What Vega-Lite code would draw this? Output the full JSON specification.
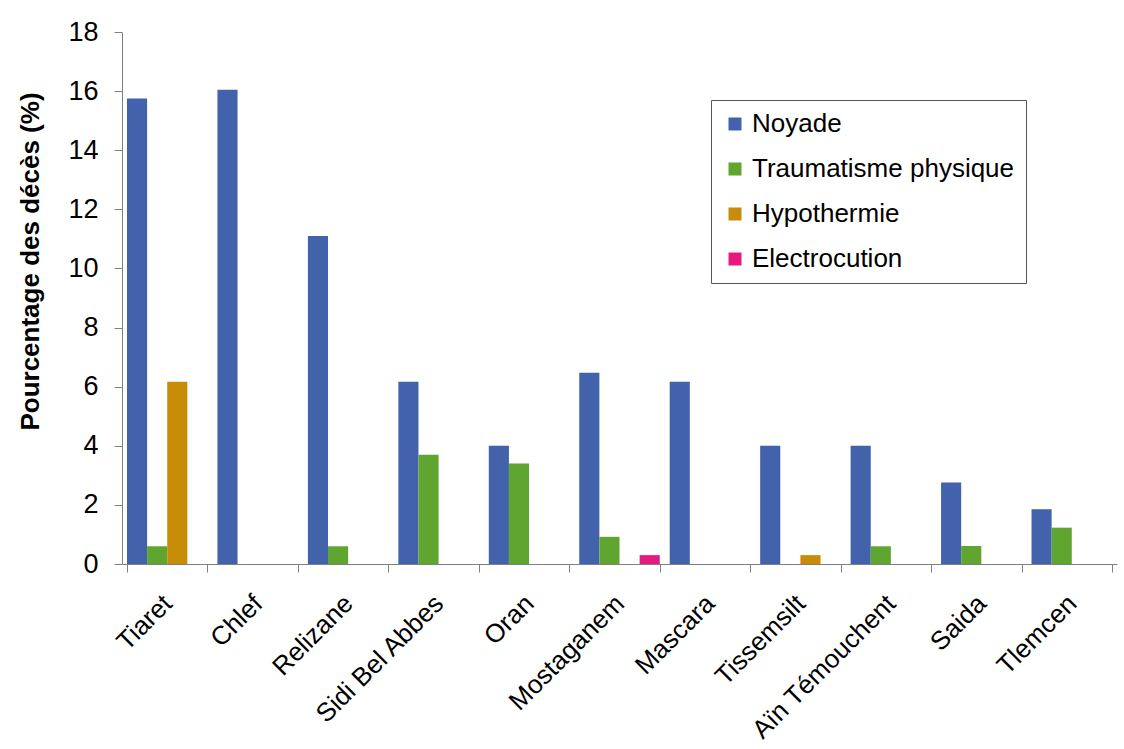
{
  "$schema": "https://vega.github.io/schema/vega-lite/v6.json",
  "autosize": {"type": "none"},
  "padding": {"left": 122, "top": 32, "right": 7, "bottom": 185},
  "width": 995,
  "height": 532,
  "background": "white",
  "config": {
    "font": "Liberation Sans",
    "view": {"stroke": null},
    "axis": {"labelColor": "black", "titleColor": "black", "domainColor": "#808080", "tickColor": "#808080", "grid": false}
  },
  "data": {
    "values": [
      {"wilaya": "Tiaret", "cause": "Noyade", "pct": 15.75},
      {"wilaya": "Tiaret", "cause": "Traumatisme physique", "pct": 0.6},
      {"wilaya": "Tiaret", "cause": "Hypothermie", "pct": 6.17},
      {"wilaya": "Chlef", "cause": "Noyade", "pct": 16.05},
      {"wilaya": "Relizane", "cause": "Noyade", "pct": 11.1},
      {"wilaya": "Relizane", "cause": "Traumatisme physique", "pct": 0.6},
      {"wilaya": "Sidi Bel Abbes", "cause": "Noyade", "pct": 6.17},
      {"wilaya": "Sidi Bel Abbes", "cause": "Traumatisme physique", "pct": 3.7},
      {"wilaya": "Oran", "cause": "Noyade", "pct": 4.0},
      {"wilaya": "Oran", "cause": "Traumatisme physique", "pct": 3.4},
      {"wilaya": "Mostaganem", "cause": "Noyade", "pct": 6.47},
      {"wilaya": "Mostaganem", "cause": "Traumatisme physique", "pct": 0.92},
      {"wilaya": "Mostaganem", "cause": "Electrocution", "pct": 0.3},
      {"wilaya": "Mascara", "cause": "Noyade", "pct": 6.17},
      {"wilaya": "Tissemsilt", "cause": "Noyade", "pct": 4.0},
      {"wilaya": "Tissemsilt", "cause": "Hypothermie", "pct": 0.3},
      {"wilaya": "Aïn Témouchent", "cause": "Noyade", "pct": 4.0},
      {"wilaya": "Aïn Témouchent", "cause": "Traumatisme physique", "pct": 0.6},
      {"wilaya": "Saida", "cause": "Noyade", "pct": 2.76},
      {"wilaya": "Saida", "cause": "Traumatisme physique", "pct": 0.61},
      {"wilaya": "Tlemcen", "cause": "Noyade", "pct": 1.85},
      {"wilaya": "Tlemcen", "cause": "Traumatisme physique", "pct": 1.23}
    ]
  },
  "mark": {"type": "bar"},
  "encoding": {
    "x": {
      "field": "wilaya",
      "type": "nominal",
      "sort": ["Tiaret", "Chlef", "Relizane", "Sidi Bel Abbes", "Oran", "Mostaganem", "Mascara", "Tissemsilt", "Aïn Témouchent", "Saida", "Tlemcen"],
      "scale": {"paddingInner": 0.11, "paddingOuter": 0.055},
      "axis": {
        "title": null,
        "labelAngle": -45,
        "labelFontSize": 26,
        "labelPadding": 18,
        "labelOffset": -9,
        "labelLimit": 400,
        "tickSize": 8,
        "tickBand": "extent"
      }
    },
    "xOffset": {
      "field": "cause",
      "type": "nominal",
      "scale": {"domain": ["Noyade", "Traumatisme physique", "Hypothermie", "Electrocution"], "paddingInner": 0, "paddingOuter": 0}
    },
    "y": {
      "field": "pct",
      "type": "quantitative",
      "scale": {"domain": [0, 18], "nice": false},
      "axis": {
        "title": "Pourcentage des décès (%)",
        "titleFontSize": 26,
        "titleFontWeight": "bold",
        "titleX": -79,
        "titleY": 229,
        "values": [0, 2, 4, 6, 8, 10, 12, 14, 16, 18],
        "labelFontSize": 27,
        "labelPadding": 16,
        "tickSize": 8
      }
    },
    "color": {
      "field": "cause",
      "type": "nominal",
      "scale": {
        "domain": ["Noyade", "Traumatisme physique", "Hypothermie", "Electrocution"],
        "range": ["#4262AC", "#5FA52F", "#C98C08", "#E6197F"]
      },
      "legend": {
        "title": null,
        "orient": "none",
        "legendX": 589,
        "legendY": 68,
        "symbolType": "square",
        "symbolSize": 169,
        "symbolStrokeWidth": 0,
        "labelFontSize": 26,
        "labelColor": "black",
        "rowPadding": 19,
        "padding": 11,
        "strokeColor": "#555555",
        "fillColor": "white",
        "labelLimit": 400
      }
    }
  }
}
